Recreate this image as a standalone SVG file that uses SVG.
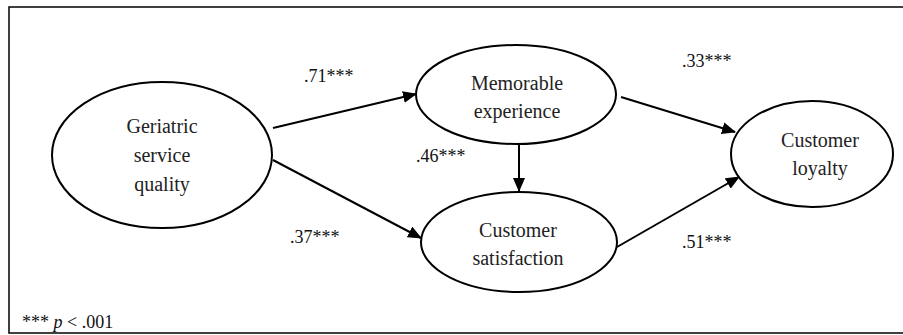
<svg xmlns="http://www.w3.org/2000/svg" width="903" height="335" viewBox="0 0 903 335">
<defs>
<marker id="ah" markerUnits="userSpaceOnUse" markerWidth="14" markerHeight="12" refX="13" refY="6" orient="auto">
<path d="M0,0 L14,6 L0,12 z" fill="#000"/>
</marker>
</defs>
<rect x="9" y="7" width="900" height="326" fill="#fff" stroke="#000" stroke-width="1.5"/>
<g id="connectors" stroke="#000" stroke-width="2" fill="none" marker-end="url(#ah)">
<line x1="273" y1="128" x2="416" y2="94"/>
<line x1="273" y1="160" x2="421" y2="238"/>
<line x1="519" y1="144" x2="519" y2="191"/>
<line x1="621" y1="97" x2="735" y2="132"/>
<line x1="617" y1="247" x2="739" y2="177"/>
</g>
<g id="geriatric">
<ellipse cx="162" cy="155" rx="110" ry="73" fill="#fff" stroke="#000" stroke-width="2"/>
<text x="162" y="133" font-family="Liberation Serif" font-size="20" fill="#222" text-anchor="middle">Geriatric</text>
<text x="162" y="162" font-family="Liberation Serif" font-size="20" fill="#222" text-anchor="middle">service</text>
<text x="162" y="191" font-family="Liberation Serif" font-size="20" fill="#222" text-anchor="middle">quality</text>
</g>
<g id="memorable">
<ellipse cx="516" cy="94.5" rx="100" ry="49.5" fill="#fff" stroke="#000" stroke-width="2"/>
<text x="517" y="90" font-family="Liberation Serif" font-size="20" fill="#222" text-anchor="middle">Memorable</text>
<text x="517" y="118" font-family="Liberation Serif" font-size="20" fill="#222" text-anchor="middle">experience</text>
</g>
<g id="satisfaction">
<ellipse cx="519" cy="242" rx="98" ry="50" fill="#fff" stroke="#000" stroke-width="2"/>
<text x="518" y="237" font-family="Liberation Serif" font-size="20" fill="#222" text-anchor="middle">Customer</text>
<text x="518" y="265" font-family="Liberation Serif" font-size="20" fill="#222" text-anchor="middle">satisfaction</text>
</g>
<g id="loyalty">
<ellipse cx="812" cy="154" rx="81" ry="53" fill="#fff" stroke="#000" stroke-width="2"/>
<text x="820" y="147" font-family="Liberation Serif" font-size="20" fill="#222" text-anchor="middle">Customer</text>
<text x="820" y="175" font-family="Liberation Serif" font-size="20" fill="#222" text-anchor="middle">loyalty</text>
</g>
<g id="labels" font-family="Liberation Serif" font-size="18" fill="#111">
<text x="304" y="82" font-family="Liberation Serif">.71***</text>
<text x="290" y="243" font-family="Liberation Serif">.37***</text>
<text x="416" y="162" font-family="Liberation Serif">.46***</text>
<text x="682" y="67" font-family="Liberation Serif">.33***</text>
<text x="682" y="248" font-family="Liberation Serif">.51***</text>
<text x="22" y="328" font-family="Liberation Serif">*** <tspan font-style="italic">p</tspan> &lt; .001</text>
</g>
</svg>
